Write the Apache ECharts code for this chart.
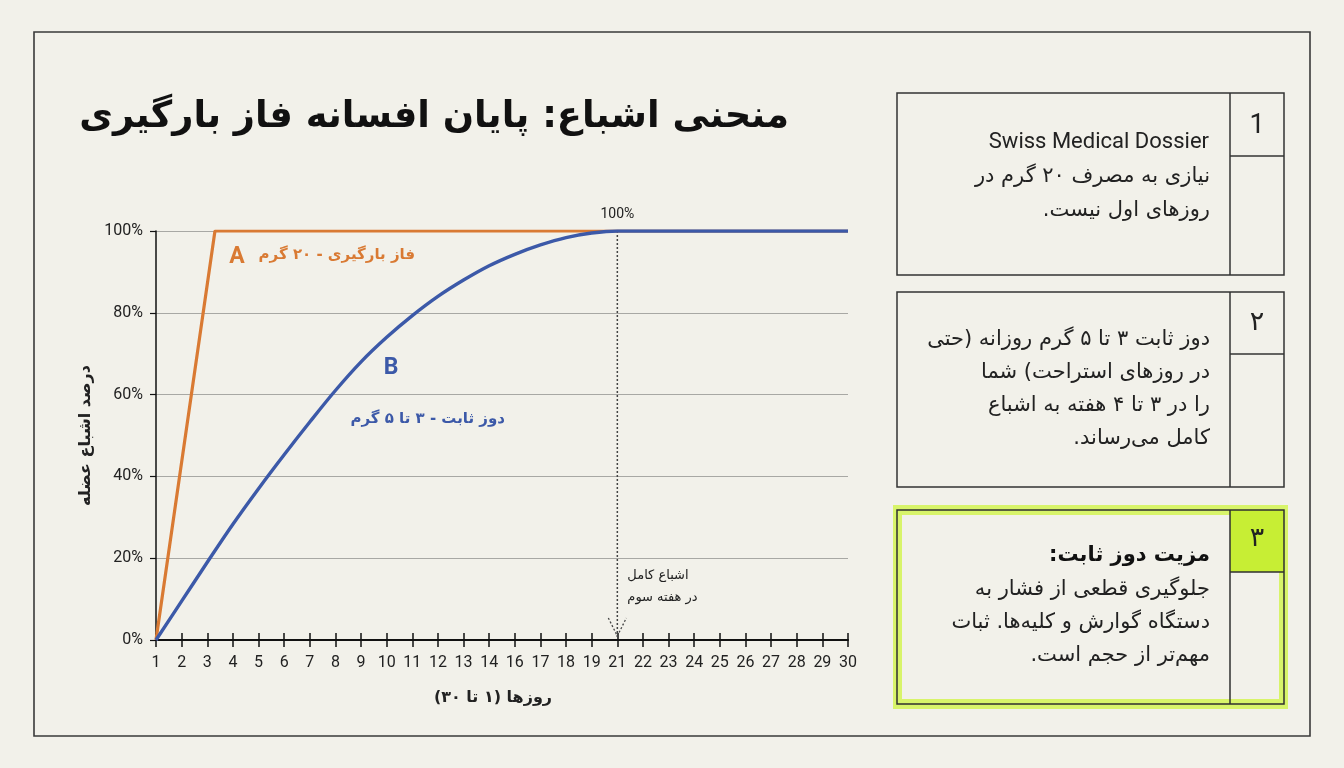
<!DOCTYPE html>
<html>
<head>
<meta charset="utf-8">
<script src="https://cdn.jsdelivr.net/npm/echarts@6/dist/echarts.min.js"></script>
<style>
html,body{margin:0;padding:0;background:#F2F1EA;}
#chart{width:1344px;height:768px;}
</style>
</head>
<body>
<div id="chart" dir="rtl"></div>
<script>
// ---- data ----
const dayLabels = ['1','2','3','4','5','6','7','8','9','10','11','12','13','14','16','17','18','19','21','22','23','24','25','26','27','28','29','30'];
const yTickValues = [0, 20, 40, 60, 80, 100];
// loading phase (A): positions along the day axis (index units) and saturation %
const loadingX = [0, 2.3, 27];
const loadingY = [0, 100, 100];
// steady dose (B): saturation % at each day label
const steadyY = [0, 9.5, 19, 28.3, 37, 45.3, 53.3, 61, 68, 74, 79.3, 84, 88, 91.5, 94.3, 96.6, 98.4, 99.5, 100, 100, 100, 100, 100, 100, 100, 100, 100, 100];
const saturationDay = '21';

const titleText = 'منحنی اشباع: پایان افسانه فاز بارگیری';
const yName = 'درصد اشباع عضله';
const xName = 'روزها (۱ تا ۳۰)';
const labelA = 'فاز بارگیری - ۲۰ گرم';
const labelB = 'دوز ثابت - ۳ تا ۵ گرم';
const satLines = ['اشباع کامل', 'در هفته سوم'];
const box1 = ['Swiss Medical Dossier', 'نیازی به مصرف ۲۰ گرم در', 'روزهای اول نیست.'];
const box2 = ['دوز ثابت ۳ تا ۵ گرم روزانه (حتی', 'در روزهای استراحت) شما', 'را در ۳ تا ۴ هفته به اشباع', 'کامل می\u200cرساند.'];
const box3Head = 'مزیت دوز ثابت:';
const box3 = ['جلوگیری قطعی از فشار به', 'دستگاه گوارش و کلیه\u200cها. ثبات', 'مهم\u200cتر از حجم است.'];
const boxNums = ['1', '۲', '۳'];

const RLM = '\u200F';
const rtl = s => RLM + s + RLM;
const FONT = "Roboto, 'DejaVu Sans', sans-serif";
const PFONT = "'DejaVu Sans', Roboto, sans-serif";
const ORANGE = '#D97A33';
const BLUE = '#3C59A8';
const INK = '#222222';

const satIdx = dayLabels.indexOf(saturationDay);
const loadingData = loadingX.map((x, i) => [x, loadingY[i]]);
const steadyData = steadyY.map((v, i) => [i, v]);

const chart = echarts.init(document.getElementById('chart'), null, {renderer: 'canvas'});

const xCommon = {
  type: 'value', min: 0, max: dayLabels.length - 1, interval: 1,
  splitLine: {show: false}
};

chart.setOption({
  backgroundColor: '#F2F1EA',
  animation: false,
  grid: {left: 156, top: 231, width: 692, height: 409, containLabel: false},
  xAxis: [
    Object.assign({}, xCommon, {
      position: 'bottom',
      axisLine: {show: true, lineStyle: {color: '#111', width: 2}},
      axisTick: {show: true, length: 7, lineStyle: {color: '#111', width: 1.5}},
      axisLabel: {show: true, margin: 15, color: INK, fontSize: 16, fontFamily: FONT,
        formatter: v => dayLabels[v] !== undefined ? dayLabels[v] : ''},
      name: rtl(xName), nameLocation: 'middle', nameGap: 50,
      nameTextStyle: {color: INK, fontSize: 16, fontWeight: 'bold', fontFamily: PFONT, padding: [0, 18, 0, 0]}
    }),
    Object.assign({}, xCommon, {
      position: 'bottom',
      axisLine: {show: false},
      axisTick: {show: true, inside: true, length: 7, lineStyle: {color: '#111', width: 1.5}},
      axisLabel: {show: false}
    })
  ],
  yAxis: {
    type: 'value', min: 0, max: 100, interval: 20,
    axisLine: {show: true, lineStyle: {color: '#111', width: 1.5}},
    axisTick: {show: true, length: 6, lineStyle: {color: '#111', width: 1.2}},
    axisLabel: {margin: 13, color: INK, fontSize: 16, fontFamily: FONT, formatter: '{value}%'},
    splitLine: {show: true, lineStyle: {color: '#A8A8A4', width: 1}},
    name: rtl(yName), nameLocation: 'middle', nameGap: 62, nameRotate: 90,
    nameTextStyle: {color: INK, fontSize: 16, fontWeight: 'bold', fontFamily: PFONT}
  },
  series: [
    {
      type: 'line', name: 'sat', data: [[satIdx, 100], [satIdx, 0.6]], symbol: 'none',
      lineStyle: {color: '#444', width: 1.5, type: [2, 2]}, z: 1, silent: true
    },
    {
      type: 'line', name: 'A', data: loadingData, symbol: 'none',
      lineStyle: {color: ORANGE, width: 3.2}, z: 2
    },
    {
      type: 'line', name: 'B', data: steadyData, symbol: 'none', smooth: 0.35,
      lineStyle: {color: BLUE, width: 3.4}, z: 3
    }
  ]
});

// ---- annotations and side panel ----
const px = (x, y) => chart.convertToPixel({xAxisIndex: 0, yAxisIndex: 0}, [x, y]);
const tipPt = px(satIdx, 0);
const topPt = px(satIdx, 100);
const g = [];

function txt(text, x, y, size, color, align, weight, family) {
  g.push({type: 'text', silent: true, z: 50, style: {
    text: text, x: x, y: y, fill: color, align: align || 'right', verticalAlign: 'middle',
    font: (weight || 'normal') + ' ' + size + 'px ' + (family || PFONT)
  }});
}
function line(x1, y1, x2, y2, color, w, dash) {
  g.push({type: 'line', silent: true, z: 40, shape: {x1, y1, x2, y2},
    style: {stroke: color, lineWidth: w, lineDash: dash || null}});
}
function rect(x, y, w, h, fill, stroke, lw, z) {
  g.push({type: 'rect', silent: true, z: z || 30, shape: {x, y, width: w, height: h},
    style: {fill: fill || 'none', stroke: stroke || 'none', lineWidth: lw || 0}});
}

// outer frame
rect(34, 32, 1276, 704, 'none', '#3a3a3a', 1.6, 5);

// title
txt(rtl(titleText), 789, 117, 36.8, '#111', 'right', 'bold');

// A / B labels
txt('A', 237, 257, 23, ORANGE, 'center', 'bold', FONT);
txt(rtl(labelA), 415, 255, 15, ORANGE, 'right', 'bold');
txt('B', 391, 368, 23, BLUE, 'center', 'bold', FONT);
txt(rtl(labelB), 505, 419, 15, BLUE, 'right', 'bold');

// saturation marker
txt('100%', topPt[0], topPt[1] - 17, 14, INK, 'center', 'normal', FONT);
g.push({type: 'polyline', silent: true, z: 40,
  shape: {points: [[tipPt[0] - 9, tipPt[1] - 22], [tipPt[0], tipPt[1] - 4], [tipPt[0] + 9, tipPt[1] - 22]]},
  style: {stroke: '#444', lineWidth: 1.3, lineDash: [2, 2], fill: 'none'}});
txt(rtl(satLines[0]), tipPt[0] + 10, 576, 13, INK, 'left');
txt(rtl(satLines[1]), tipPt[0] + 10, 598, 13, INK, 'left');

// box 1
rect(897, 93, 387, 182, 'none', '#333', 1.5);
line(1230, 93, 1230, 275, '#333', 1.5);
line(1230, 156, 1284, 156, '#333', 1.5);
txt(boxNums[0], 1257, 126, 27, INK, 'center', 'normal', FONT);
txt(box1[0], 1209, 142, 22, INK, 'right', 'normal', FONT);
txt(rtl(box1[1]), 1210, 177, 21, INK);
txt(rtl(box1[2]), 1210, 211, 21, INK);

// box 2
rect(897, 292, 387, 195, 'none', '#333', 1.5);
line(1230, 292, 1230, 487, '#333', 1.5);
line(1230, 354, 1284, 354, '#333', 1.5);
txt(boxNums[1], 1257, 323, 27, INK, 'center');
[340, 373, 406, 439].forEach((y, i) => txt(rtl(box2[i]), 1210, y, 21, INK));

// box 3 (highlighted)
rect(893, 505, 395, 204, '#D8F46A', 'none', 0, 20);
rect(902, 515, 377, 184, '#F2F1EA', 'none', 0, 21);
rect(1230, 510, 54, 62, '#C7EE34', 'none', 0, 22);
rect(897, 510, 387, 194, 'none', '#2f2f2f', 1.5, 30);
line(1230, 510, 1230, 704, '#2f2f2f', 1.5);
line(1230, 572, 1284, 572, '#2f2f2f', 1.5);
txt(boxNums[2], 1257, 539, 27, INK, 'center');
txt(rtl(box3Head), 1210, 556, 21, '#111', 'right', 'bold');
[590, 623, 656].forEach((y, i) => txt(rtl(box3[i]), 1210, y, 21, INK));

chart.setOption({graphic: {elements: g}});
</script>
</body>
</html>
